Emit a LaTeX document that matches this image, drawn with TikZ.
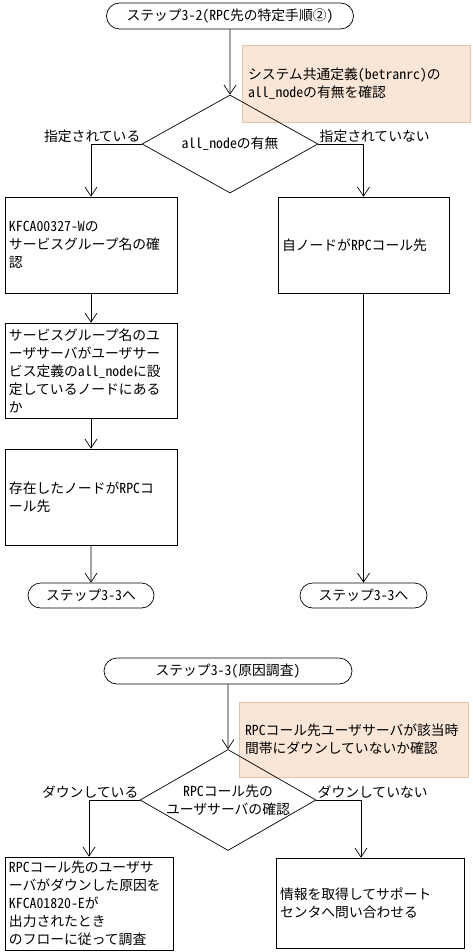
\documentclass[tikz,border=0pt]{standalone}
\usepackage{fontspec}
\setmainfont{Noto Sans CJK JP}[RawFeature=+hwid]
\usepackage{tikz}
\usetikzlibrary{shapes.geometric}
\usetikzlibrary{shapes.misc}
\usetikzlibrary{arrows.meta}
\usepackage{xcolor}
\definecolor{memofill}{RGB}{250,230,214}
\definecolor{memoline}{RGB}{230,196,168}

\begin{document}
\begin{tikzpicture}[x=1pt,y=-1pt,line width=.7pt,
  every node/.style={font=\fontsize{13.8}{18}\selectfont},
  term/.style={draw,rounded rectangle,minimum height=26pt,inner sep=0pt},
  proc/.style={draw,align=left,inner xsep=4pt,inner ysep=0pt},
  memo/.style={draw=memoline,fill=memofill,align=left,inner xsep=6pt,inner ysep=0pt},
  decide/.style={draw,diamond,aspect=1.8,align=center,inner sep=-8pt,minimum width=176pt,minimum height=98pt},
  branch/.style={inner sep=1pt},
  >={Straight Barb[length=9pt,width=12pt]}]
\useasboundingbox (0,0) rectangle (473,952);
% step 3-2
\node[term,minimum width=247pt] (start1) at (230,16) {ステップ3-2(RPC先の特定手順②)};
\node[memo,text width=216pt,minimum height=77pt] (memo1) at (356,83.5) {システム共通定義(betranrc)の\\all\_nodeの有無を確認};
\node[decide] (dec1) at (230,144) {all\_nodeの有無};
\node[branch,anchor=south east] (yes1) at (dec1.west) {指定されている};
\node[branch,anchor=south west] (no1) at (dec1.east) {指定されていない};
\node[proc,text width=164pt,minimum height=96pt] (box1) at (91,245) {KFCA00327-Wの\\サービスグループ名の確\\認};
\node[proc,text width=163pt,minimum height=96pt] (box2) at (363.5,245) {自ノードがRPCコール先};
\node[proc,text width=164pt,minimum height=95pt] (box3) at (91,370.5) {サービスグループ名のユ\\ーザサーバがユーザサー\\ビス定義のall\_nodeに設\\定しているノードにある\\か};
\node[proc,text width=164pt,minimum height=96pt] (box4) at (91,497) {存在したノードがRPCコ\\ール先};
\node[term,minimum width=126pt,minimum height=25pt] (end1) at (91,595.5) {ステップ3-3へ};
\node[term,minimum width=127pt,minimum height=25pt] (end2) at (363.5,595.5) {ステップ3-3へ};
\draw[->] (start1) -- (dec1);
\draw[->] (dec1.west) -| (box1.north);
\draw[->] (dec1.east) -| (box2.north);
\draw[->] (box1) -- (box3);
\draw[->] (box3) -- (box4);
\draw[->] (box4) -- (end1);
\draw[->] (box2) -- (end2);
% step 3-3
\node[term,minimum width=248pt] (start2) at (228,671) {ステップ3-3(原因調査)};
\node[memo,text width=217pt,minimum height=75pt] (memo2) at (353.5,739.5) {RPCコール先ユーザサーバが該当時\\間帯にダウンしていないか確認};
\node[decide,minimum height=101pt] (dec2) at (228,800) {RPCコール先の\\ユーザサーバの確認};
\node[branch,anchor=south east] (yes2) at (dec2.west) {ダウンしている};
\node[branch,anchor=south west] (no2) at (dec2.east) {ダウンしていない};
\node[proc,text width=160pt,minimum height=93pt] (box5) at (89,903.5) {RPCコール先のユーザサ\\ーバがダウンした原因を\\KFCA01820-Eが\\出力されたとき\\のフローに従って調査};
\node[proc,text width=180pt,minimum height=90pt] (box6) at (370,903) {情報を取得してサポート\\センタへ問い合わせる};
\draw[->] (start2) -- (dec2);
\draw[->] (dec2.west) -| (box5.north);
\draw[->] (dec2.east) -| ([xshift=-9pt]box6.north);
\end{tikzpicture}
\end{document}
